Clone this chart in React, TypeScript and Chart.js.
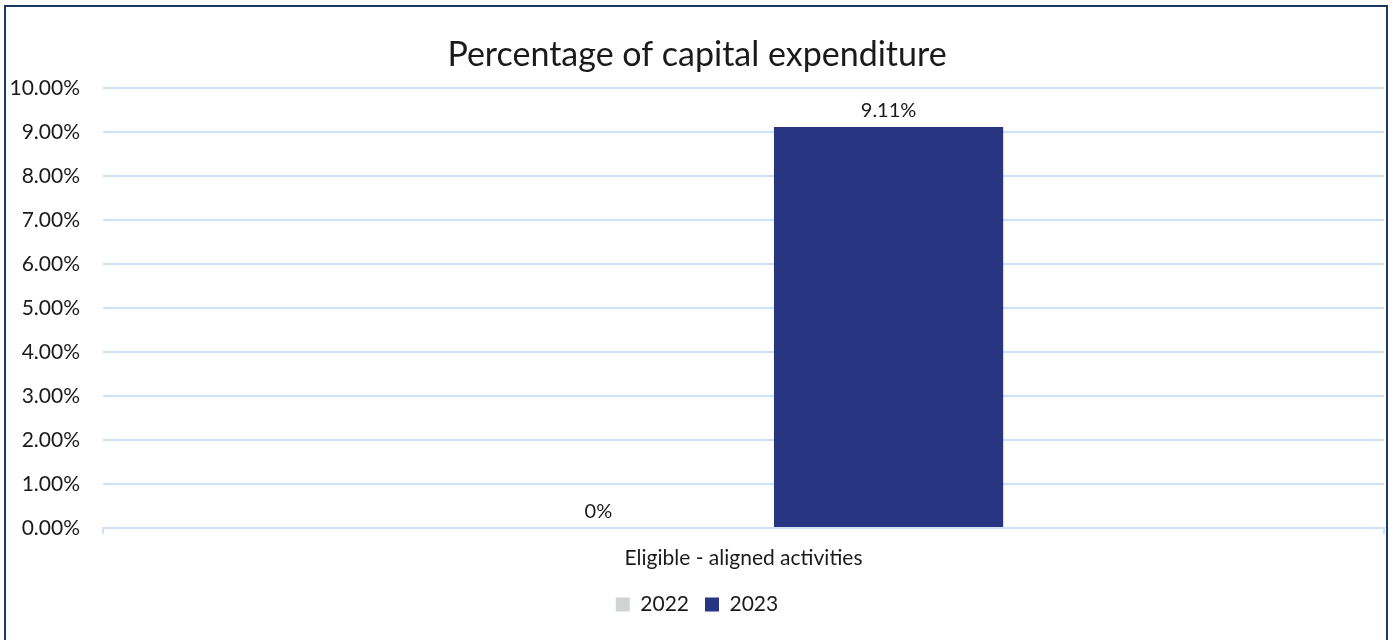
import React, { useEffect, useRef } from "react";
import { Chart, registerables } from "chart.js";

Chart.register(...registerables);

const categories = ["Eligible - aligned activities"];
const seriesLabels = ["2022", "2023"];
const values2022 = [0];
const values2023 = [9.11];
const yTicks = [0, 1, 2, 3, 4, 5, 6, 7, 8, 9, 10];

const FONT = "Lato, 'Open Sans', sans-serif";
const GRID = "#cfe1f6";
const TEXT = "#1a1a1a";

const formatLabel = (v: number) => (v === 0 ? "0%" : v.toFixed(2) + "%");

// Value labels drawn just above each bar
const valueLabels = {
  id: "valueLabels",
  afterDatasetsDraw(chart: any) {
    const ctx = chart.ctx;
    ctx.save();
    ctx.font = `20px ${FONT}`;
    ctx.fillStyle = TEXT;
    ctx.textAlign = "center";
    ctx.textBaseline = "middle";
    chart.data.datasets.forEach((ds: any, i: number) => {
      const meta = chart.getDatasetMeta(i);
      meta.data.forEach((bar: any, j: number) => {
        const v = ds.data[j] as number;
        ctx.fillText(formatLabel(v), bar.x, bar.y - 16);
      });
    });
    ctx.restore();
  },
};

export default function App() {
  const ref = useRef<HTMLCanvasElement | null>(null);

  useEffect(() => {
    document.body.style.margin = "0";
    const chart = new Chart(ref.current!, {
      type: "bar",
      data: {
        labels: categories,
        datasets: [
          {
            label: seriesLabels[0],
            data: values2022,
            backgroundColor: "#d0d3d4",
            categoryPercentage: 0.453,
            barPercentage: 0.79,
          },
          {
            label: seriesLabels[1],
            data: values2023,
            backgroundColor: "#283583",
            categoryPercentage: 0.453,
            barPercentage: 0.79,
          },
        ],
      },
      options: {
        animation: false,
        responsive: false,
        maintainAspectRatio: false,
        layout: { padding: { left: 10, right: 10, top: 20, bottom: 15 } },
        scales: {
          x: {
            grid: {
              offset: true,
              drawOnChartArea: false,
              drawTicks: true,
              tickLength: 6,
              color: GRID,
              lineWidth: 2,
            },
            border: { color: GRID, width: 2 },
            ticks: {
              color: TEXT,
              font: { family: FONT, size: 21 },
              padding: 12,
            },
            afterFit: (axis: any) => {
              axis.height = 50;
            },
          },
          y: {
            min: 0,
            max: 10,
            afterBuildTicks: (axis: any) => {
              axis.ticks = yTicks.map((v) => ({ value: v }));
            },
            grid: { color: GRID, lineWidth: 2, drawTicks: false },
            border: { display: false },
            ticks: {
              color: TEXT,
              font: { family: FONT, size: 21 },
              padding: 23,
              callback: (v: any) => Number(v).toFixed(2) + "%",
            },
            afterFit: (axis: any) => {
              axis.width = 93;
            },
          },
        },
        plugins: {
          title: {
            display: true,
            text: "Percentage of capital expenditure",
            color: TEXT,
            font: { family: FONT, size: 34, weight: "normal" },
            padding: { top: 15, bottom: 12 },
          },
          legend: {
            position: "bottom",
            labels: {
              color: TEXT,
              font: { family: FONT, size: 21 },
              boxWidth: 14,
              boxHeight: 14,
              padding: 16,
            },
          },
          tooltip: { enabled: false },
        },
      },
      plugins: [valueLabels],
    });
    return () => chart.destroy();
  }, []);

  return (
    <div
      style={{
        position: "fixed",
        left: 0,
        top: 0,
        width: 1394,
        height: 640,
        background: "#ffffff",
        overflow: "hidden",
      }}
    >
      <canvas
        ref={ref}
        width={1394}
        height={640}
        style={{ position: "absolute", left: 0, top: 0, width: 1394, height: 640 }}
      />
      <div
        style={{
          position: "absolute",
          left: 4,
          top: 5,
          width: 1380,
          height: 660,
          borderLeft: "2px solid #1b3a63",
          borderTop: "2px solid #1b3a63",
          borderRight: "2px solid #1b3a63",
          pointerEvents: "none",
        }}
      />
    </div>
  );
}
